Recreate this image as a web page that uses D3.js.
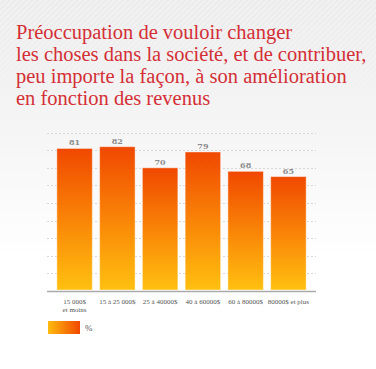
<!DOCTYPE html>
<html>
<head>
<meta charset="utf-8">
<script src="https://cdn.jsdelivr.net/npm/d3@7"></script>
<style>
  html, body { margin: 0; padding: 0; background: #fff; }
  svg { display: block; }
</style>
</head>
<body>
<div id="chart"></div>
<script>
document.addEventListener('DOMContentLoaded', function() {
    // Données
    const categories = ["15 000$|et moins", "15 à 25 000$", "25 à 40000$", "40 à 60000$", "60 à 80000$", "80000$ et plus"];
    const values = [81, 82, 70, 79, 68, 65];
    const gridTicks = [10, 20, 30, 40, 50, 60, 70, 80, 90];
    const titleLines = [
        "Préoccupation de vouloir changer",
        "les choses dans la société, et de contribuer,",
        "peu importe la façon, à son amélioration",
        "en fonction des revenus"
    ];
    const legendLabel = "%";

    const W = 376, H = 369;
    const svg = d3.select("#chart").append("svg")
        .attr("width", W).attr("height", H);

    const defs = svg.append("defs");

    // Fond gris clair qui s'estompe
    const bg = defs.append("linearGradient").attr("id", "bg")
        .attr("x1", 0).attr("y1", 0).attr("x2", 0).attr("y2", 1);
    bg.append("stop").attr("offset", "0%").attr("stop-color", "#ebebeb");
    bg.append("stop").attr("offset", "45%").attr("stop-color", "#f8f8f8");
    bg.append("stop").attr("offset", "70%").attr("stop-color", "#ffffff");

    const stripes = defs.append("pattern").attr("id", "stripes")
        .attr("width", 4).attr("height", 4)
        .attr("patternUnits", "userSpaceOnUse")
        .attr("patternTransform", "rotate(45)");
    stripes.append("rect").attr("width", 2).attr("height", 4).attr("fill", "#ffffff");

    const fade = defs.append("linearGradient").attr("id", "fade")
        .attr("x1", 0).attr("y1", 0).attr("x2", 0).attr("y2", 1);
    fade.append("stop").attr("offset", "0%").attr("stop-color", "#fff").attr("stop-opacity", 0.35);
    fade.append("stop").attr("offset", "40%").attr("stop-color", "#fff").attr("stop-opacity", 0);
    const mask = defs.append("mask").attr("id", "fadeMask");
    mask.append("rect").attr("width", W).attr("height", H).attr("fill", "url(#fade)");

    svg.append("rect").attr("width", W).attr("height", H).attr("fill", "url(#bg)");
    svg.append("rect").attr("width", W).attr("height", H)
        .attr("fill", "url(#stripes)").attr("mask", "url(#fadeMask)");

    // Dégradé des barres
    const barGrad = defs.append("linearGradient").attr("id", "barGrad")
        .attr("x1", 0).attr("y1", 0).attr("x2", 0).attr("y2", 1);
    barGrad.append("stop").attr("offset", "0%").attr("stop-color", "#f04800");
    barGrad.append("stop").attr("offset", "55%").attr("stop-color", "#fa8a08");
    barGrad.append("stop").attr("offset", "100%").attr("stop-color", "#ffc010");

    const legGrad = defs.append("linearGradient").attr("id", "legGrad")
        .attr("x1", 0).attr("y1", 0).attr("x2", 1).attr("y2", 0);
    legGrad.append("stop").attr("offset", "0%").attr("stop-color", "#ffbc10");
    legGrad.append("stop").attr("offset", "100%").attr("stop-color", "#f04800");

    // Titre
    svg.append("g").selectAll("text")
        .data(titleLines)
        .enter().append("text")
        .attr("x", 16)
        .attr("y", (d, i) => 39 + i * 22)
        .attr("font-family", "'Liberation Serif', 'DejaVu Serif', serif")
        .attr("font-size", 20.5)
        .attr("fill", "#d42f36")
        .text(d => d);

    // Échelles
    const x = d3.scaleBand()
        .domain(categories)
        .range([47, 316])
        .paddingInner(0.17)
        .paddingOuter(0.23);

    const y = d3.scaleLinear()
        .domain([0, 100])
        .range([291, 115]);

    // Grille pointillée
    svg.append("g").selectAll("line")
        .data(gridTicks)
        .enter().append("line")
        .attr("x1", 47).attr("x2", 316)
        .attr("y1", d => Math.round(y(d)) + 0.5)
        .attr("y2", d => Math.round(y(d)) + 0.5)
        .attr("stroke", "#d8d8d8")
        .attr("stroke-dasharray", "2,2");

    // Barres
    svg.append("g").selectAll("rect")
        .data(values)
        .enter().append("rect")
        .attr("x", (d, i) => x(categories[i]))
        .attr("y", d => y(d))
        .attr("width", x.bandwidth())
        .attr("height", d => y(0) - y(d) - 1)
        .attr("fill", "url(#barGrad)")
        .attr("stroke", "rgba(255,255,255,0.45)")
        .attr("stroke-width", 1);

    // Valeurs
    svg.append("g").selectAll("text")
        .data(values)
        .enter().append("text")
        .attr("x", (d, i) => x(categories[i]) + x.bandwidth() / 2)
        .attr("y", d => y(d) - 3)
        .attr("text-anchor", "middle")
        .attr("font-family", "'DejaVu Serif', serif")
        .attr("font-weight", "bold")
        .attr("font-size", 8)
        .attr("fill", "#8c8c8c")
        .text(d => d);

    // Axe horizontal
    svg.append("line")
        .attr("x1", 47).attr("x2", 316)
        .attr("y1", 291.5).attr("y2", 291.5)
        .attr("stroke", "#aaaaaa")
        .attr("stroke-width", 1.5);

    const xLabels = svg.append("g").selectAll("text")
        .data(categories)
        .enter().append("text")
        .attr("x", d => x(d) + x.bandwidth() / 2)
        .attr("y", 304)
        .attr("text-anchor", "middle")
        .attr("font-family", "'Liberation Serif', serif")
        .attr("font-size", 7)
        .attr("fill", "#555");
    xLabels.each(function(d) {
        const parts = d.split("|");
        d3.select(this).selectAll("tspan")
            .data(parts)
            .enter().append("tspan")
            .attr("x", d3.select(this).attr("x"))
            .attr("dy", (p, j) => j === 0 ? 0 : 7.5)
            .text(p => p);
    });

    // Légende
    svg.append("rect")
        .attr("x", 48).attr("y", 321)
        .attr("width", 32).attr("height", 13)
        .attr("fill", "url(#legGrad)");
    svg.append("text")
        .attr("x", 85).attr("y", 331)
        .attr("font-family", "'Liberation Serif', serif")
        .attr("font-size", 9)
        .attr("fill", "#555")
        .text(legendLabel);
});
</script>
</body>
</html>
